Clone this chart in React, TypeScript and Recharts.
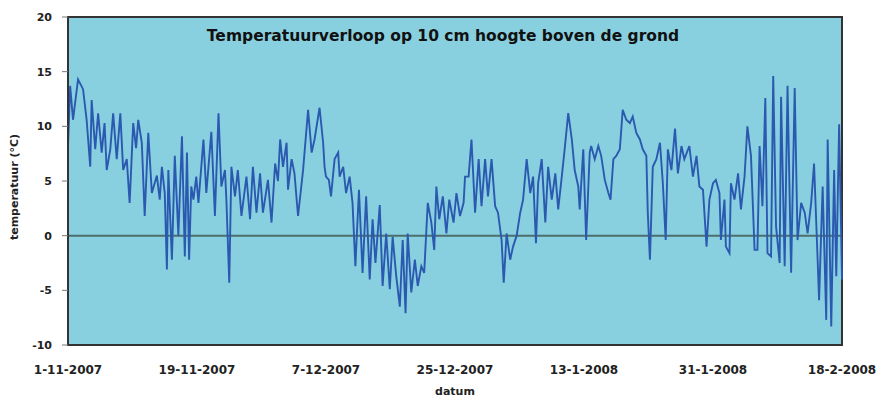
import React from 'react';
import {
  LineChart,
  Line,
  XAxis,
  YAxis,
  CartesianGrid,
  ReferenceLine,
  ReferenceArea,
  Label,
} from 'recharts';

// days since 1-11-2007
const dag = [
  0.0, 0.3, 0.7, 1.4, 2.1, 2.6, 3.1, 3.3, 3.8, 4.2, 4.7, 5.1, 5.4, 5.9, 6.3, 6.8, 7.3, 7.7, 8.2, 8.6,
  9.1, 9.5, 9.8, 10.3, 10.7, 11.2, 11.7, 12.4, 12.8, 13.1, 13.5, 13.8, 14.0, 14.5, 14.9, 15.4, 15.9, 16.3, 16.6, 16.9,
  17.2, 17.5, 17.9, 18.2, 18.9, 19.3, 20.0, 20.5, 21.0, 21.4, 21.9, 22.1, 22.5, 22.8, 23.3, 23.7, 24.2, 24.9, 25.4, 25.8,
  26.3, 26.8, 27.2, 27.9, 28.4, 28.9, 29.3, 29.6, 30.0, 30.5, 30.7, 31.2, 31.6, 32.1, 32.8, 33.5, 34.0, 34.4, 35.1, 35.6,
  35.8, 36.0, 36.4, 36.7, 37.2, 37.7, 37.9, 38.4, 38.8, 39.3, 39.7, 40.1, 40.6, 41.1, 41.6, 42.1, 42.5, 42.9, 43.5, 43.9,
  44.4, 44.9, 45.3, 45.8, 46.3, 46.7, 47.1, 47.4, 47.9, 48.4, 48.8, 49.3, 49.7, 50.2, 50.7, 51.1, 51.4, 51.8, 52.3, 52.8,
  53.2, 53.8, 54.2, 54.7, 55.2, 55.4, 55.9, 56.3, 56.8, 57.3, 57.7, 58.2, 58.6, 59.1, 59.6, 60.0, 60.5, 60.8, 61.2, 61.7,
  62.1, 62.6, 63.1, 63.5, 64.0, 64.5, 64.9, 65.3, 65.6, 66.1, 66.6, 67.0, 67.5, 68.0, 68.4, 68.9, 69.3, 69.8, 70.3, 70.7,
  71.2, 71.4, 71.9, 72.3, 72.8, 73.0, 73.5, 74.0, 74.4, 74.9, 75.4, 75.7, 76.1, 76.5, 77.0, 77.4, 77.9, 78.4, 78.8, 79.3,
  79.8, 80.2, 80.7, 80.9, 81.2, 81.6, 82.1, 82.6, 83.0, 83.4, 83.7, 84.2, 84.7, 85.1, 85.6, 86.0, 86.7, 87.2, 87.7, 88.1,
  88.6, 89.1, 89.5, 90.0, 90.4, 90.9, 91.1, 91.6, 91.8, 92.3, 92.5, 93.0, 93.5, 93.9, 94.4, 94.8, 95.3, 95.8, 96.2, 96.5,
  96.9, 97.3, 97.6, 98.1, 98.4, 98.8, 99.3, 99.5, 100.0, 100.4, 100.9, 101.4, 101.8, 102.3, 102.8, 103.2, 103.7, 104.1, 104.6, 104.8,
  105.3, 105.8, 106.0, 106.5, 106.9, 107.2, 107.6, 108.0,
];

// temperatuur in °C at 10 cm
const temperatuur = [
  8.2, 13.7, 10.6, 14.3, 13.4, 10.6, 6.3, 12.4, 7.9, 11.2, 7.6, 10.3, 6.0, 7.9, 11.2, 7.0, 11.2, 6.0, 7.0, 3.0,
  10.3, 8.0, 10.6, 8.5, 1.8, 9.4, 3.9, 5.5, 3.3, 6.3, 3.9, -3.1, 6.0, -2.2, 7.3, 0.0, 9.1, -1.9, 7.6, -2.2,
  4.5, 3.3, 5.4, 3.0, 8.8, 3.9, 9.5, 1.8, 11.2, 4.5, 6.0, 3.3, -4.3, 6.3, 3.6, 6.0, 1.8, 5.4, 1.5, 6.3,
  2.1, 5.7, 2.1, 5.1, 1.2, 6.6, 5.0, 8.8, 6.3, 8.5, 4.2, 7.0, 5.7, 1.8, 6.0, 11.5, 7.6, 8.8, 11.7, 8.5,
  6.3, 5.4, 5.1, 3.6, 7.0, 7.6, 5.4, 6.3, 3.9, 5.4, 3.0, -2.8, 4.2, -3.4, 3.6, -4.0, 1.5, -2.5, 2.8, -4.6,
  0.2, -4.9, -0.1, -3.7, -6.5, -0.4, -7.1, 0.2, -5.2, -2.2, -4.6, -2.8, -3.4, 3.0, 1.2, -1.3, 4.5, 1.5, 3.6, 0.2,
  3.3, 1.2, 3.9, 1.8, 3.0, 5.4, 5.4, 8.8, 2.1, 7.0, 2.7, 7.0, 3.6, 7.0, 2.7, 2.1, -0.4, -4.3, 0.2, -2.2,
  -1.0, 0.0, 2.1, 3.3, 7.0, 3.9, 5.4, -0.7, 4.8, 7.0, 1.2, 6.3, 3.3, 5.7, 2.4, 5.4, 7.9, 11.2, 8.8, 6.0,
  4.5, 2.4, 7.9, -0.4, 7.6, 8.2, 7.0, 8.2, 7.3, 5.1, 3.9, 3.3, 7.0, 7.3, 7.9, 11.5, 10.6, 10.3, 10.9, 9.4,
  8.8, 7.9, 7.3, 2.1, -2.2, 6.3, 7.0, 8.5, 4.8, -0.4, 7.9, 6.0, 9.8, 5.7, 8.2, 7.0, 8.2, 5.4, 7.3, 4.5,
  4.2, -1.0, 3.3, 4.8, 5.1, 3.9, -0.4, 3.3, -1.0, -1.6, 4.8, 3.3, 5.7, 2.4, 5.4, 10.0, 7.3, -1.3, -1.3, 8.2,
  2.7, 12.6, -1.6, -1.9, 14.6, 0.8, -2.5, 12.7, -2.8, 13.7, -3.4, 13.5, -0.4, 3.0, 2.1, 0.2, 3.0, 6.6, -2.2, -5.9,
  4.5, -7.7, 8.8, -8.3, 6.0, -3.7, 10.2, -4.0,
];

const xTicks = [0, 18, 36, 54, 72, 90, 108];
const xLabels = ['1-11-2007', '19-11-2007', '7-12-2007', '25-12-2007', '13-1-2008', '31-1-2008', '18-2-2008'];
const yTicks = [-10, -5, 0, 5, 10, 15, 20];

const data = dag.map((d, i) => ({ dag: d, temp: temperatuur[i] }));

const FONT = '"DejaVu Sans", Verdana, sans-serif';

export default function App() {
  return (
    <div style={{ position: 'absolute', left: 0, top: 0, width: 878, height: 401, background: '#fff' }}>
      <LineChart width={878} height={401} data={data} margin={{ top: 17, right: 36, bottom: 4, left: 8 }}>
        <CartesianGrid fill="#88d0e0" horizontal={false} vertical={false} />
        <XAxis
          dataKey="dag"
          type="number"
          domain={[0, 108]}
          ticks={xTicks}
          interval={0}
          tickFormatter={(v) => xLabels[xTicks.indexOf(v)]}
          tickLine={false}
          tickMargin={14}
          axisLine={{ stroke: '#333', strokeWidth: 2 }}
          height={52}
          tick={{ fontSize: 12, fontWeight: 'bold', fill: '#222', fontFamily: FONT }}
        >
          <Label
            content={({ viewBox }: any) => (
              <text
                x={viewBox.x + viewBox.width / 2}
                y={viewBox.y + 50}
                textAnchor="middle"
                fontSize={11}
                fontWeight="bold"
                fill="#222"
                fontFamily={FONT}
              >
                datum
              </text>
            )}
          />
        </XAxis>
        <YAxis
          type="number"
          domain={[-10, 20]}
          ticks={yTicks}
          interval={0}
          width={60}
          tickSize={6}
          tickMargin={10}
          tickLine={{ stroke: '#777' }}
          axisLine={{ stroke: '#333', strokeWidth: 2 }}
          tick={{ fontSize: 11, fontWeight: 'bold', fill: '#222', fontFamily: FONT }}
        >
          <Label
            content={({ viewBox }: any) => {
              const cx = 14;
              const cy = viewBox.y + viewBox.height / 2 + 6;
              return (
                <text
                  x={cx}
                  y={cy}
                  transform={`rotate(-90 ${cx} ${cy})`}
                  textAnchor="middle"
                  dominantBaseline="central"
                  fontSize={11}
                  fontWeight="bold"
                  fill="#222"
                  fontFamily={FONT}
                >
                  temperatuur (°C)
                </text>
              );
            }}
          />
        </YAxis>
        <ReferenceArea x1={0} x2={108} y1={-10} y2={20} fill="none" stroke="#333" strokeWidth={2} ifOverflow="visible" />
        <ReferenceLine y={0} stroke="#4d6f6c" strokeWidth={2} />
        <Line
          type="linear"
          dataKey="temp"
          stroke="#2c59b0"
          strokeWidth={1.9}
          dot={false}
          isAnimationActive={false}
        />
      </LineChart>
      <div
        style={{
          position: 'absolute',
          left: 0,
          top: 27,
          width: 886,
          textAlign: 'center',
          fontFamily: FONT,
          fontSize: 15.5,
          fontWeight: 'bold',
          color: '#111',
          lineHeight: '18px',
        }}
      >
        Temperatuurverloop op 10 cm hoogte boven de grond
      </div>
    </div>
  );
}
